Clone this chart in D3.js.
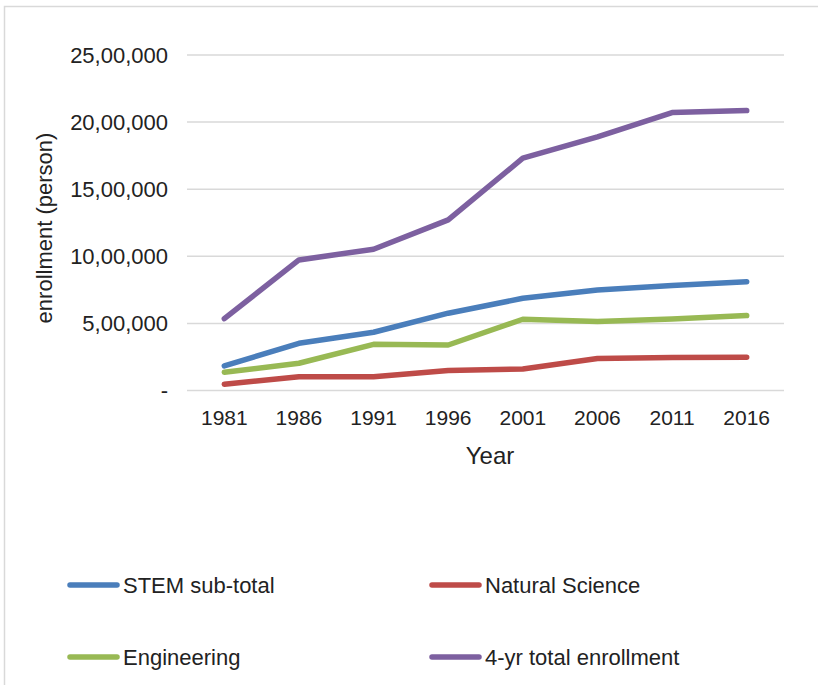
<!DOCTYPE html>
<html>
<head>
<meta charset="utf-8">
<script src="https://cdn.jsdelivr.net/npm/d3@7"></script>
<style>
  html, body { margin: 0; padding: 0; background: #fff; }
  svg { display: block; font-family: "Liberation Sans", Arial, Helvetica, sans-serif; }
</style>
</head>
<body>
<svg id="chart" width="818" height="685"></svg>
<script>
// Enrollment by year
const years = ["1981", "1986", "1991", "1996", "2001", "2006", "2011", "2016"];
const stemSubtotal = [183000, 352000, 434000, 576000, 687000, 749000, 783000, 811000];
const naturalScience = [46000, 103000, 103000, 149000, 160000, 239000, 246000, 248000];
const engineering = [136000, 203000, 344000, 339000, 531000, 515000, 533000, 558000];
const totalEnrollment = [535000, 973000, 1053000, 1271000, 1731000, 1890000, 2071000, 2086000];
const yTicks = [0, 500000, 1000000, 1500000, 2000000, 2500000];

const series = [
  { name: "STEM sub-total", values: stemSubtotal, color: "#4a7ebb" },
  { name: "Natural Science", values: naturalScience, color: "#be4b48" },
  { name: "Engineering", values: engineering, color: "#98b954" },
  { name: "4-yr total enrollment", values: totalEnrollment, color: "#7d60a0" }
];

const svg = d3.select("#chart");

// outer frame
svg.append("rect")
  .attr("x", 4.5).attr("y", 6.5)
  .attr("width", 830).attr("height", 700)
  .attr("fill", "none").attr("stroke", "#d9d9d9").attr("stroke-width", 1.5);

const plot = { left: 187, right: 784, top: 55, bottom: 390.5 };

const x = d3.scaleBand().domain(years).range([plot.left, plot.right]);
const y = d3.scaleLinear().domain([0, 2500000]).range([plot.bottom, plot.top]);

// Indian digit grouping: 25,00,000
const indian = d3.formatLocale({ decimal: ".", thousands: ",", grouping: [3, 2, 2], currency: ["", ""] });
const fmt = indian.format(",d");
const tickFmt = v => v === 0 ? "-" : fmt(v);

// gridlines
svg.append("g")
  .selectAll("line")
  .data(yTicks)
  .join("line")
  .attr("x1", plot.left).attr("x2", plot.right)
  .attr("y1", d => y(d)).attr("y2", d => y(d))
  .attr("stroke", "#d9d9d9").attr("stroke-width", 1.5);

// y axis labels
const yAxis = svg.append("g")
  .attr("transform", `translate(${plot.left - 4},0)`)
  .call(d3.axisLeft(y).tickValues(yTicks).tickFormat(tickFmt).tickSize(0).tickPadding(15));
yAxis.select(".domain").remove();
yAxis.selectAll("text")
  .attr("font-size", 22).attr("fill", "#222")
  .attr("font-family", "Liberation Sans, Arial, sans-serif");

// x axis labels
const xAxis = svg.append("g")
  .attr("transform", `translate(0,${plot.bottom})`)
  .call(d3.axisBottom(x).tickSize(0).tickPadding(20));
xAxis.select(".domain").remove();
xAxis.selectAll("text")
  .attr("font-size", 21).attr("fill", "#222")
  .attr("font-family", "Liberation Sans, Arial, sans-serif");

// axis titles
svg.append("text")
  .attr("x", 490).attr("y", 464)
  .attr("text-anchor", "middle")
  .attr("font-size", 24).attr("fill", "#222")
  .text("Year");

svg.append("text")
  .attr("transform", "translate(52,228) rotate(-90)")
  .attr("text-anchor", "middle")
  .attr("font-size", 22).attr("fill", "#222")
  .text("enrollment (person)");

// lines
const line = d3.line()
  .x((d, i) => x(years[i]) + x.bandwidth() / 2)
  .y(d => y(d));

svg.append("g")
  .selectAll("path")
  .data(series)
  .join("path")
  .attr("d", s => line(s.values))
  .attr("fill", "none")
  .attr("stroke", s => s.color)
  .attr("stroke-width", 5.5)
  .attr("stroke-linecap", "round")
  .attr("stroke-linejoin", "round");

// legend
const legendPos = [
  { x: 70, y: 585 }, { x: 432, y: 585 },
  { x: 70, y: 657 }, { x: 432, y: 657 }
];
const legend = svg.append("g")
  .selectAll("g")
  .data(series)
  .join("g")
  .attr("transform", (d, i) => `translate(${legendPos[i].x},${legendPos[i].y})`);
legend.append("line")
  .attr("x1", 0).attr("x2", 47).attr("y1", 0).attr("y2", 0)
  .attr("stroke", d => d.color).attr("stroke-width", 5.5)
  .attr("stroke-linecap", "round");
legend.append("text")
  .attr("x", 53).attr("y", 0).attr("dy", "0.35em")
  .attr("font-size", 22).attr("fill", "#222")
  .text(d => d.name);
</script>
</body>
</html>
